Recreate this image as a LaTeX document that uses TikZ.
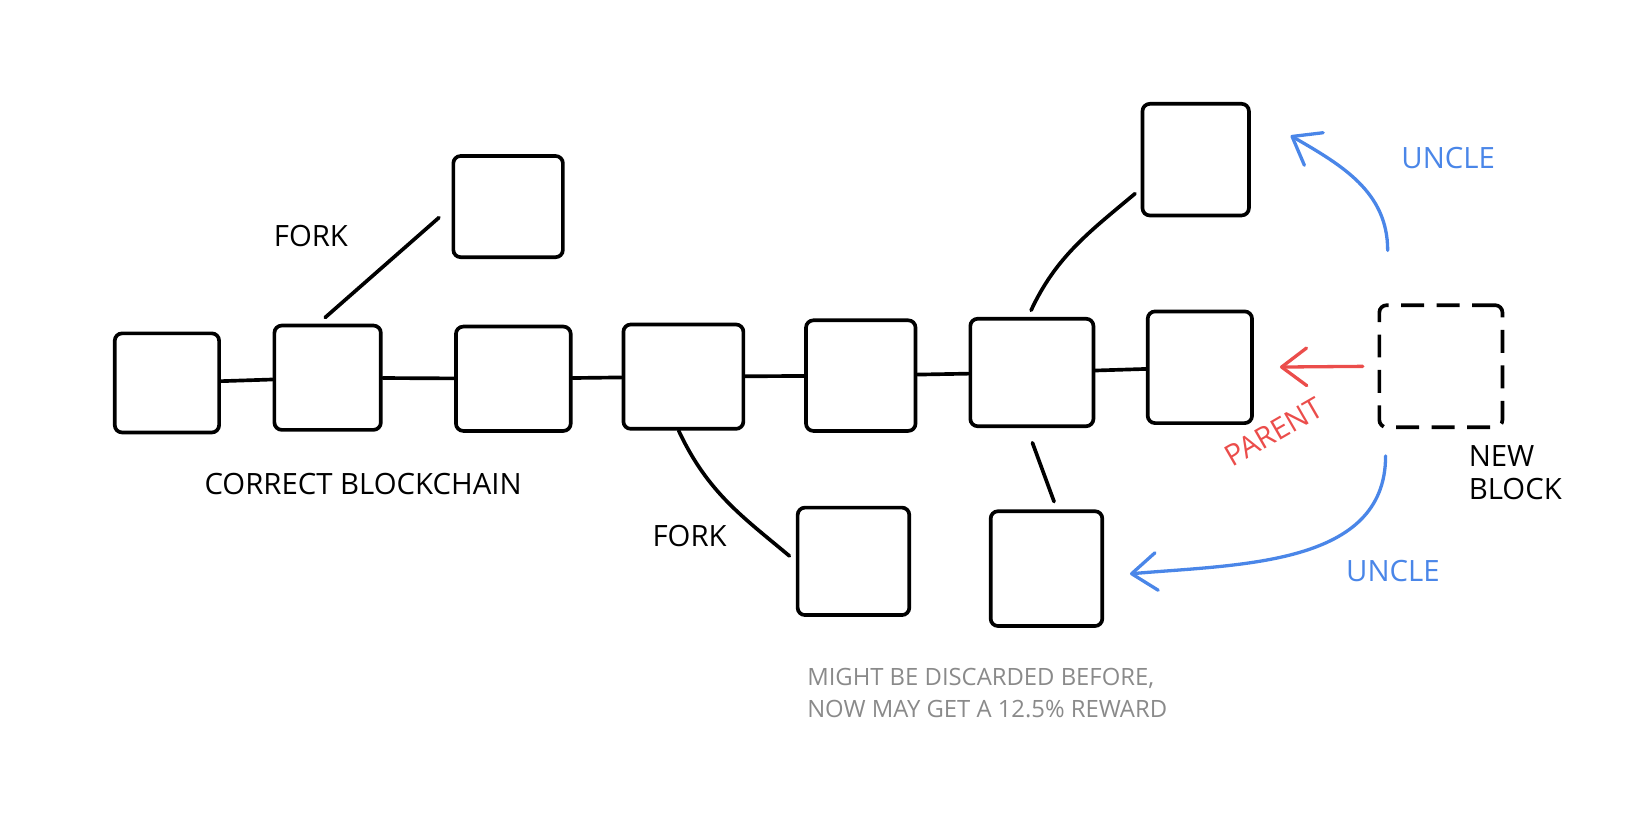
\documentclass[tikz,border=0pt]{standalone}
\usepackage{fontspec}
\setmainfont{Open Sans}
\usetikzlibrary{arrows.meta,positioning}

\definecolor{uncleblue}{HTML}{4A86E8}
\definecolor{parentred}{HTML}{EB4D4B}
\definecolor{notegray}{HTML}{8A8A8A}

\begin{document}
\begin{tikzpicture}[x=0.1mm, y=-0.1mm,
    >={Straight Barb[length=2.4mm, width=3.6mm, round]},
    block/.style={draw, line width=1pt, rounded corners=2pt, inner sep=0pt, minimum width=10.5mm, minimum height=10mm},
    newblock/.style={block, dash pattern=on 2.2mm off 1.2mm},
    chainlink/.style={line width=1pt, line cap=round},
    tag/.style={inner sep=0pt, font=\fontsize{8}{9.1}\selectfont},
    note/.style={inner sep=0pt, text=notegray, align=left, font=\fontsize{6.5}{8.8}\selectfont},
    uncle/.style={->, line width=0.9pt, line cap=round, uncleblue},
    parentarrow/.style={->, line width=0.9pt, line cap=round, parentred}]
    \useasboundingbox (0,0) rectangle (1568,784);

    % main chain
    \node[block, minimum width=10mm, minimum height=9.5mm] (b1) at (160,367) {};
    \node[block, minimum width=10.2mm] (b2) at (314,362) {};
    \node[block, minimum width=11mm] (b3) at (492,363) {};
    \node[block, minimum width=11.5mm] (b4) at (655,361) {};
    \node[block, minimum height=10.6mm] (b5) at (825,360) {};
    \node[block, minimum width=11.8mm, minimum height=10.3mm] (b6) at (989,357) {};
    \node[block, minimum width=10mm, minimum height=10.7mm] (b7) at (1150,352) {};

    % side blocks
    \node[block, minimum height=9.7mm] (f1) at (487,198) {};
    \node[block, minimum width=10.2mm, minimum height=10.7mm] (u1) at (1146,153) {};
    \node[block, minimum width=10.7mm, minimum height=10.3mm] (f2) at (818,538) {};
    \node[block, minimum width=10.7mm, minimum height=11mm] (u2) at (1003,545) {};
    \node[newblock, minimum width=11.8mm, minimum height=11.7mm] (nb) at (1381,351) {};

    \draw[chainlink] (b1) -- (b2);
    \draw[chainlink] (b2) -- (b3);
    \draw[chainlink] (b3) -- (b4);
    \draw[chainlink] (b4) -- (b5);
    \draw[chainlink] (b5) -- (b6);
    \draw[chainlink] (b6) -- (b7);

    \draw[chainlink, shorten <=0.9mm, shorten >=1.6mm] (b2.100) -- (f1.west);
    \draw[chainlink, shorten <=0.7mm, shorten >=0.7mm] (b6.94) to[out=65, in=-140] (u1.208);
    \draw[chainlink, shorten >=0.8mm] (b4.265) to[out=-65, in=140] (f2.west);
    \draw[chainlink, shorten <=1.5mm, shorten >=0.8mm] (b6.265) -- (u2.80);

    % arrows from the new block
    \draw[parentarrow, shorten <=1.4mm, shorten >=2.5mm] (nb.west) -- (b7.east);
    \coordinate (uptail) at (1330,240);
    \coordinate (uphead) at (1237,130);
    \coordinate (lowtail) at (1328,437);
    \coordinate (lowhead) at (1083,550);
    \draw[uncle] (uptail) to[out=90, in=-30] (uphead);
    \draw[uncle] (lowtail) to[out=-90, in=5] (lowhead);

    % labels
    \node[tag] (forkup) at (298,226) {FORK};
    \node[tag] (correct) at (348,464) {CORRECT BLOCKCHAIN};
    \node[tag] (forkdown) at (661,514) {FORK};
    \node[tag, text=uncleblue] (uncletop) at (1388,151) {UNCLE};
    \node[tag, text=uncleblue] (unclelow) at (1335,547) {UNCLE};
    \node[tag, text=parentred, rotate=30] (parent) at (1221,414) {PARENT};
    \node[tag, align=left, anchor=west] (newlabel) at (1407,453) {NEW\\BLOCK};
    \node[note, anchor=west] (note) at (773,664) {MIGHT BE DISCARDED BEFORE,\\NOW MAY GET A 12.5\% REWARD};
\end{tikzpicture}
\end{document}
